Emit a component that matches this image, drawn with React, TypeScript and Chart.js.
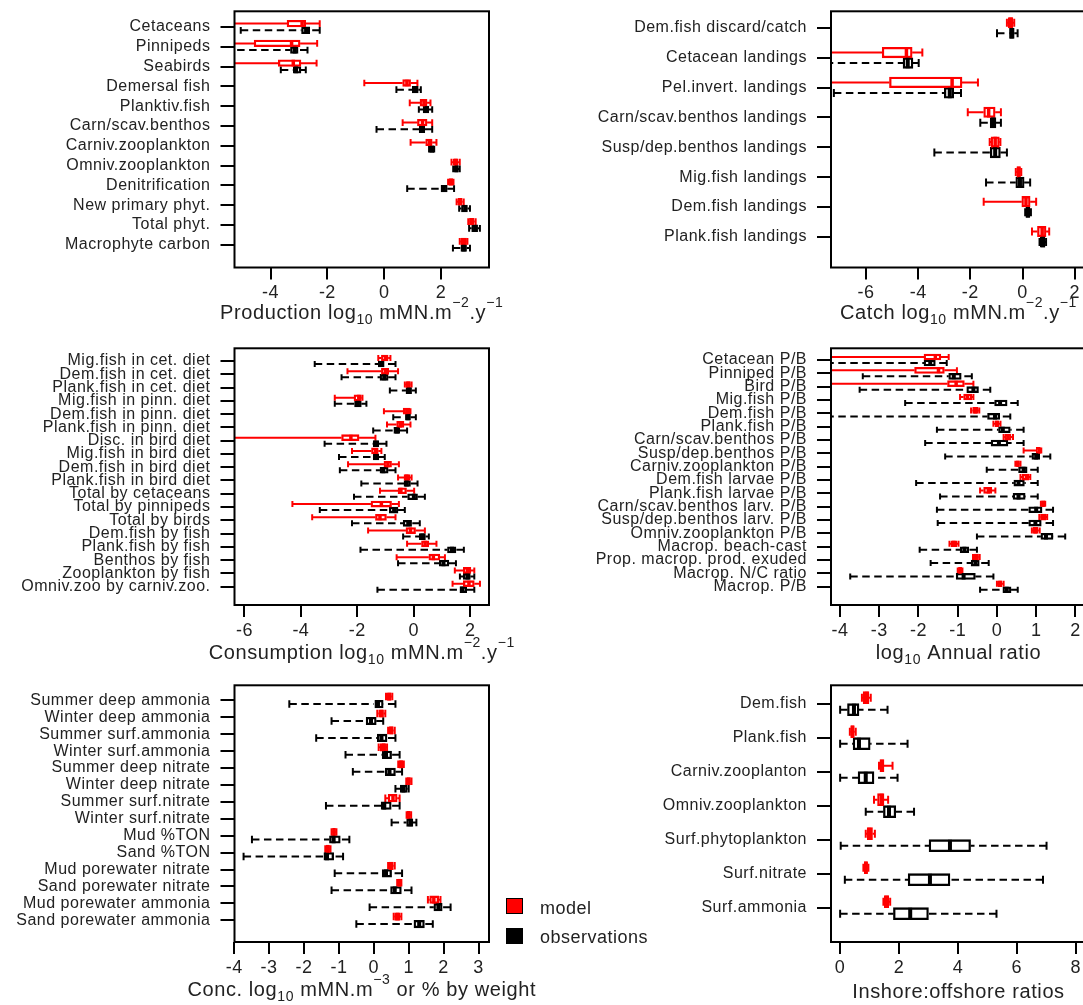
import React, { useEffect, useRef } from 'react';
import { Chart, registerables } from 'chart.js';

Chart.register(...registerables);

const FONT = 'Arial, "Liberation Sans", sans-serif';
const RED = '#ff0000';
const BLACK = '#000000';
const TEXT = '#222222';

// Each summary is [min, lower quartile, median, upper quartile, max]
type Five = [number, number, number, number, number];

// ---------- Panel 1: Production ----------
const PROD_LABELS = ['Cetaceans', 'Pinnipeds', 'Seabirds', 'Demersal fish', 'Planktiv.fish', 'Carn/scav.benthos', 'Carniv.zooplankton', 'Omniv.zooplankton', 'Denitrification', 'New primary phyt.', 'Total phyt.', 'Macrophyte carbon'];
const PROD_MODEL: Five[] = [
  [-6.5, -3.42, -2.89, -2.76, -2.27],
  [-6.8, -4.58, -3.26, -2.96, -2.36],
  [-6.6, -3.73, -3.2, -2.93, -2.38],
  [-0.7, 0.65, 0.8, 0.93, 1.17],
  [0.9, 1.26, 1.4, 1.51, 1.63],
  [0.65, 1.17, 1.35, 1.51, 1.69],
  [0.93, 1.46, 1.6, 1.69, 1.84],
  [2.37, 2.43, 2.52, 2.6, 2.66],
  [2.25, 2.28, 2.35, 2.41, 2.44],
  [2.55, 2.6, 2.65, 2.75, 2.8],
  [2.96, 3.0, 3.08, 3.17, 3.22],
  [2.66, 2.7, 2.8, 2.9, 2.93],
];
const PROD_OBS: Five[] = [
  [-5.05, -2.91, -2.75, -2.62, -2.27],
  [-5.6, -3.3, -3.15, -3.03, -2.7],
  [-3.64, -3.2, -3.1, -2.93, -2.76],
  [0.43, 0.99, 1.1, 1.2, 1.29],
  [1.22, 1.37, 1.5, 1.57, 1.69],
  [-0.27, 1.23, 1.3, 1.43, 1.69],
  [1.58, 1.6, 1.68, 1.74, 1.76],
  [2.43, 2.47, 2.55, 2.6, 2.66],
  [0.81, 2.0, 2.1, 2.22, 2.46],
  [2.64, 2.72, 2.85, 2.93, 3.02],
  [2.99, 3.08, 3.2, 3.29, 3.37],
  [2.42, 2.7, 2.8, 2.9, 3.02],
];
const PROD_TICKS = [-4, -2, 0, 2];

// ---------- Panel 2: Catch ----------
const CATCH_LABELS = ['Dem.fish discard/catch', 'Cetacean landings', 'Pel.invert. landings', 'Carn/scav.benthos landings', 'Susp/dep.benthos landings', 'Mig.fish landings', 'Dem.fish landings', 'Plank.fish landings'];
const CATCH_MODEL: Five[] = [
  [-0.6, -0.55, -0.45, -0.37, -0.32],
  [-9, -5.38, -4.45, -4.23, -3.84],
  [-9.5, -5.1, -2.7, -2.32, -1.71],
  [-2.1, -1.49, -1.3, -1.05, -0.83],
  [-1.26, -1.21, -1.05, -0.89, -0.85],
  [-0.26, -0.22, -0.15, -0.08, -0.05],
  [-1.49, -0.03, 0.13, 0.29, 0.52],
  [0.36, 0.57, 0.75, 0.9, 1.02],
];
const CATCH_OBS: Five[] = [
  [-0.98, -0.5, -0.42, -0.32, -0.19],
  [-8, -4.58, -4.4, -4.2, -3.98],
  [-7.23, -3.0, -2.79, -2.64, -2.36],
  [-1.62, -1.24, -1.13, -1.02, -0.83],
  [-3.38, -1.24, -1.05, -0.85, -0.6],
  [-1.4, -0.26, -0.1, 0.06, 0.29],
  [0.1, 0.13, 0.2, 0.28, 0.32],
  [0.65, 0.68, 0.78, 0.86, 0.9],
];
const CATCH_TICKS = [-6, -4, -2, 0, 2];

// ---------- Panel 3: Consumption ----------
const CONS_LABELS = ['Mig.fish in cet. diet', 'Dem.fish in cet. diet', 'Plank.fish in cet. diet', 'Mig.fish in pinn. diet', 'Dem.fish in pinn. diet', 'Plank.fish in pinn. diet', 'Disc. in bird diet', 'Mig.fish in bird diet', 'Dem.fish in bird diet', 'Plank.fish in bird diet', 'Total by cetaceans', 'Total by pinnipeds', 'Total by birds', 'Dem.fish by fish', 'Plank.fish by fish', 'Benthos by fish', 'Zooplankton by fish', 'Omniv.zoo by carniv.zoo.'];
const CONS_MODEL: Five[] = [
  [-1.26, -1.15, -1.0, -0.91, -0.83],
  [-2.35, -1.15, -1.0, -0.89, -0.56],
  [-0.32, -0.28, -0.2, -0.12, -0.08],
  [-2.8, -2.12, -1.95, -1.86, -1.82],
  [-1.06, -0.38, -0.25, -0.14, -0.12],
  [-0.95, -0.61, -0.48, -0.35, -0.12],
  [-7.5, -2.56, -2.23, -1.94, -1.36],
  [-2.19, -1.5, -1.35, -1.26, -1.15],
  [-2.33, -1.06, -0.92, -0.79, -0.53],
  [-0.56, -0.35, -0.25, -0.14, -0.08],
  [-1.2, -0.56, -0.46, -0.26, 0.01],
  [-4.3, -1.52, -1.15, -0.79, -0.53],
  [-3.6, -1.36, -1.2, -0.97, -0.65],
  [-1.62, -0.28, -0.12, 0.06, 0.39],
  [-0.24, 0.27, 0.4, 0.53, 0.8],
  [-0.61, 0.53, 0.69, 0.92, 1.1],
  [1.45, 1.75, 1.9, 2.02, 2.14],
  [1.37, 1.75, 1.95, 2.14, 2.34],
];
const CONS_OBS: Five[] = [
  [-3.51, -1.26, -1.15, -1.05, -0.65],
  [-2.56, -1.2, -1.05, -0.91, -0.65],
  [-0.85, -0.28, -0.18, -0.08, 0.07],
  [-2.8, -2.1, -1.98, -1.86, -1.68],
  [-0.73, -0.3, -0.2, -0.12, 0.07],
  [-1.44, -0.71, -0.6, -0.5, -0.24],
  [-3.16, -1.44, -1.35, -1.24, -0.97],
  [-2.65, -1.44, -1.35, -1.24, -1.03],
  [-2.62, -1.2, -1.08, -0.91, -0.65],
  [-1.86, -0.35, -0.25, -0.12, 0.13],
  [-2.12, -0.22, 0.0, 0.13, 0.39],
  [-3.33, -0.87, -0.7, -0.56, -0.32],
  [-2.19, -0.38, -0.2, -0.08, 0.21],
  [-0.38, 0.19, 0.3, 0.41, 0.53],
  [-1.89, 1.19, 1.35, 1.49, 1.77],
  [-0.56, 0.9, 1.05, 1.24, 1.49],
  [1.63, 1.75, 1.9, 2.0, 2.14],
  [-1.29, 1.63, 1.72, 1.87, 2.14],
];
const CONS_TICKS = [-6, -4, -2, 0, 2];

// ---------- Panel 4: Annual ratio ----------
const RATIO_LABELS = ['Cetacean P/B', 'Pinniped P/B', 'Bird P/B', 'Mig.fish P/B', 'Dem.fish P/B', 'Plank.fish P/B', 'Carn/scav.benthos P/B', 'Susp/dep.benthos P/B', 'Carniv.zooplankton P/B', 'Dem.fish larvae P/B', 'Plank.fish larvae P/B', 'Carn/scav.benthos larv. P/B', 'Susp/dep.benthos larv. P/B', 'Omniv.zooplankton P/B', 'Macrop. beach-cast', 'Prop. macrop. prod. exuded', 'Macrop. N/C ratio', 'Macrop. P/B'];
const RATIO_MODEL: Five[] = [
  [-5.0, -1.86, -1.57, -1.43, -1.23],
  [-5.0, -2.1, -1.49, -1.34, -1.02],
  [-5.0, -1.26, -1.04, -0.83, -0.6],
  [-0.94, -0.85, -0.75, -0.64, -0.6],
  [-0.66, -0.62, -0.55, -0.48, -0.45],
  [-0.09, -0.05, 0.0, 0.05, 0.09],
  [0.17, 0.2, 0.28, 0.36, 0.41],
  [0.68, 1.0, 1.08, 1.1, 1.13],
  [0.47, 0.5, 0.53, 0.57, 0.6],
  [0.6, 0.64, 0.75, 0.81, 0.85],
  [-0.43, -0.34, -0.22, -0.13, -0.04],
  [1.12, 1.14, 1.18, 1.21, 1.23],
  [1.08, 1.11, 1.18, 1.25, 1.28],
  [0.89, 0.92, 0.98, 1.05, 1.09],
  [-1.21, -1.17, -1.1, -1.02, -0.98],
  [-0.61, -0.58, -0.52, -0.47, -0.44],
  [-1.0, -0.98, -0.94, -0.9, -0.88],
  [0.0, 0.03, 0.08, 0.13, 0.17],
];
const RATIO_OBS: Five[] = [
  [-4.35, -1.86, -1.7, -1.57, -1.28],
  [-3.42, -1.23, -1.1, -0.91, -0.64],
  [-3.5, -0.77, -0.6, -0.47, -0.17],
  [-2.34, -0.06, 0.08, 0.26, 0.53],
  [-4.35, -0.24, -0.05, 0.07, 0.34],
  [-1.53, 0.04, 0.15, 0.34, 0.68],
  [-1.83, -0.15, 0.05, 0.28, 0.68],
  [-1.32, 0.89, 1.0, 1.09, 1.36],
  [-0.26, 0.55, 0.68, 0.77, 1.04],
  [-2.06, 0.43, 0.55, 0.7, 1.04],
  [-1.45, 0.41, 0.55, 0.72, 1.04],
  [-1.53, 0.81, 1.0, 1.15, 1.43],
  [-1.51, 0.81, 0.98, 1.13, 1.43],
  [-0.51, 1.12, 1.25, 1.43, 1.74],
  [-1.97, -0.94, -0.83, -0.72, -0.51],
  [-1.69, -0.66, -0.55, -0.45, -0.21],
  [-3.74, -1.04, -0.85, -0.55, -0.09],
  [-0.43, 0.15, 0.25, 0.36, 0.53],
];
const RATIO_TICKS = [-4, -3, -2, -1, 0, 1, 2];

// ---------- Panel 5: Concentrations ----------
const CONC_LABELS = ['Summer deep ammonia', 'Winter deep ammonia', 'Summer surf.ammonia', 'Winter surf.ammonia', 'Summer deep nitrate', 'Winter deep nitrate', 'Summer surf.nitrate', 'Winter surf.nitrate', 'Mud %TON', 'Sand %TON', 'Mud porewater nitrate', 'Sand porewater nitrate', 'Mud porewater ammonia', 'Sand porewater ammonia'];
const CONC_MODEL: Five[] = [
  [0.35, 0.38, 0.44, 0.5, 0.53],
  [0.1, 0.14, 0.22, 0.28, 0.33],
  [0.41, 0.44, 0.5, 0.56, 0.6],
  [0.14, 0.18, 0.28, 0.34, 0.38],
  [0.7, 0.72, 0.78, 0.83, 0.86],
  [0.93, 0.95, 1.0, 1.05, 1.08],
  [0.33, 0.41, 0.55, 0.67, 0.74],
  [0.94, 0.96, 1.0, 1.04, 1.07],
  [-1.21, -1.18, -1.14, -1.1, -1.07],
  [-1.39, -1.36, -1.31, -1.27, -1.24],
  [0.41, 0.44, 0.5, 0.56, 0.6],
  [0.67, 0.69, 0.73, 0.77, 0.79],
  [1.55, 1.6, 1.72, 1.86, 1.91],
  [0.57, 0.6, 0.68, 0.75, 0.79],
];
const CONC_OBS: Five[] = [
  [-2.42, 0.0, 0.12, 0.27, 0.62],
  [-1.21, -0.22, -0.08, 0.07, 0.27],
  [-1.65, 0.1, 0.22, 0.38, 0.62],
  [-0.81, 0.24, 0.35, 0.51, 0.74],
  [-0.6, 0.33, 0.45, 0.62, 0.81],
  [0.62, 0.76, 0.85, 0.96, 1.0],
  [-1.37, 0.21, 0.3, 0.5, 0.74],
  [0.51, 0.94, 1.05, 1.12, 1.22],
  [-3.49, -1.27, -1.15, -0.96, -0.7],
  [-3.73, -1.43, -1.34, -1.15, -0.88],
  [-1.12, 0.24, 0.35, 0.51, 0.81],
  [-1.21, 0.48, 0.6, 0.79, 1.08],
  [-0.12, 1.72, 1.85, 1.96, 2.2],
  [-0.5, 1.15, 1.3, 1.45, 1.69],
];
const CONC_TICKS = [-4, -3, -2, -1, 0, 1, 2, 3];

// ---------- Panel 6: Inshore:offshore ----------
const IO_LABELS = ['Dem.fish', 'Plank.fish', 'Carniv.zooplanton', 'Omniv.zooplankton', 'Surf.phytoplankton', 'Surf.nitrate', 'Surf.ammonia'];
const IO_MODEL: Five[] = [
  [0.74, 0.78, 0.9, 0.98, 1.04],
  [0.33, 0.36, 0.42, 0.48, 0.53],
  [1.32, 1.35, 1.42, 1.49, 1.78],
  [1.15, 1.27, 1.4, 1.49, 1.63],
  [0.87, 0.92, 1.0, 1.1, 1.18],
  [0.79, 0.82, 0.88, 0.93, 0.96],
  [1.47, 1.5, 1.58, 1.65, 1.7],
];
const IO_OBS: Five[] = [
  [0.0, 0.25, 0.47, 0.64, 1.61],
  [0.0, 0.44, 0.64, 1.02, 2.29],
  [0.0, 0.61, 0.87, 1.15, 1.95],
  [0.87, 1.47, 1.66, 1.89, 2.51],
  [0.02, 3.02, 3.73, 4.43, 7.01],
  [0.16, 2.31, 3.05, 3.73, 6.89],
  [0.0, 1.81, 2.38, 3.0, 5.31],
];
const IO_TICKS = [0, 2, 4, 6, 8];

const LEGEND_LABELS = ['model', 'observations'];

// title parts: [text, kind] kind 0 = normal, 1 = subscript, 2 = superscript
type Part = [string, number];

interface PanelSpec {
  left: number; top: number; width: number; height: number;
  yw: number; xh: number; padTop: number; padRight: number;
  labels: string[]; model: Five[]; obs: Five[];
  xmin: number; xmax: number; xticks: number[];
  ymin: number; ymax: number; bar: number;
  title: Part[]; titleDy: number;
}

const boxPlugin = {
  id: 'boxWhiskers',
  beforeDraw(chart: any) {
    (chart.ctx as any).letterSpacing = '0.5px';
  },
  beforeDatasetsDraw(chart: any) {
    const ctx = chart.ctx;
    const a = chart.chartArea;
    const xs = chart.scales.x;
    ctx.save();
    ctx.beginPath();
    ctx.rect(a.left, a.top, a.right - a.left, a.bottom - a.top);
    ctx.clip();
    chart.data.datasets.forEach((ds: any, di: number) => {
      const meta = chart.getDatasetMeta(di);
      ds.stats.forEach((s: Five, j: number) => {
        const el = meta.data[j];
        if (!el) return;
        const y = el.y;
        const h = el.height;
        const cap = Math.min(h / 2, 4);
        ctx.strokeStyle = ds.borderColor;
        ctx.lineWidth = 2;
        ctx.setLineDash(ds.dashed ? [7.5, 4.5] : []);
        ctx.beginPath();
        ctx.moveTo(xs.getPixelForValue(s[0]), y);
        ctx.lineTo(xs.getPixelForValue(s[1]), y);
        ctx.moveTo(xs.getPixelForValue(s[4]), y);
        ctx.lineTo(xs.getPixelForValue(s[3]), y);
        ctx.stroke();
        ctx.setLineDash([]);
        ctx.beginPath();
        [s[0], s[4]].forEach((v) => {
          const x = xs.getPixelForValue(v);
          ctx.moveTo(x, y - cap);
          ctx.lineTo(x, y + cap);
        });
        ctx.stroke();
      });
    });
    ctx.restore();
  },
  afterDatasetsDraw(chart: any) {
    const ctx = chart.ctx;
    const a = chart.chartArea;
    const xs = chart.scales.x;
    ctx.save();
    ctx.beginPath();
    ctx.rect(a.left, a.top, a.right - a.left, a.bottom - a.top);
    ctx.clip();
    chart.data.datasets.forEach((ds: any, di: number) => {
      const meta = chart.getDatasetMeta(di);
      ds.stats.forEach((s: Five, j: number) => {
        const el = meta.data[j];
        if (!el) return;
        const y = el.y;
        const h = el.height;
        const x = xs.getPixelForValue(s[2]);
        ctx.strokeStyle = ds.borderColor;
        ctx.lineWidth = ds.medWidth;
        ctx.beginPath();
        ctx.moveTo(x, y - h / 2);
        ctx.lineTo(x, y + h / 2);
        ctx.stroke();
      });
    });
    ctx.restore();
  },
  afterDraw(chart: any, _args: any, opts: any) {
    const ctx = chart.ctx;
    const a = chart.chartArea;
    ctx.save();
    ctx.strokeStyle = BLACK;
    ctx.lineWidth = 2;
    ctx.strokeRect(a.left, a.top, a.right - a.left, a.bottom - a.top);
    // axis title with sub/superscripts
    const parts: Part[] = opts.title || [];
    const big = 20;
    const small = 14;
    (ctx as any).letterSpacing = '0.6px';
    let total = 0;
    const widths = parts.map(([t, k]) => {
      ctx.font = `${k ? small : big}px ${FONT}`;
      const w = ctx.measureText(t).width;
      total += w;
      return w;
    });
    let x = (a.left + a.right) / 2 - total / 2;
    const cy = a.bottom + opts.titleDy;
    ctx.fillStyle = TEXT;
    ctx.textBaseline = 'middle';
    ctx.textAlign = 'left';
    parts.forEach(([t, k], i) => {
      ctx.font = `${k ? small : big}px ${FONT}`;
      const dy = k === 1 ? 7 : k === 2 ? -10 : 0;
      ctx.fillText(t, x, cy + dy);
      x += widths[i];
    });
    ctx.restore();
  },
};

function makeConfig(p: PanelSpec): any {
  const toBars = (arr: Five[]) => arr.map((s, i) => ({ x: [s[1], s[3]], y: i }));
  return {
    type: 'bar',
    data: {
      datasets: [
        {
          label: LEGEND_LABELS[0], data: toBars(p.model), stats: p.model, dashed: false, medWidth: 3.5,
          backgroundColor: '#ffffff', borderColor: RED, borderWidth: 2.3, borderSkipped: false,
          barThickness: p.bar, clip: 0,
        },
        {
          label: LEGEND_LABELS[1], data: toBars(p.obs), stats: p.obs, dashed: true, medWidth: 4,
          backgroundColor: '#ffffff', borderColor: BLACK, borderWidth: 2.3, borderSkipped: false,
          barThickness: p.bar, clip: 0,
        },
      ],
    },
    options: {
      indexAxis: 'y',
      animation: false,
      responsive: false,
      events: [],
      layout: { padding: { top: p.padTop, right: p.padRight, left: 0, bottom: 0 } },
      plugins: {
        legend: { display: false },
        tooltip: { enabled: false },
        boxWhiskers: { title: p.title, titleDy: p.titleDy },
      },
      scales: {
        x: {
          type: 'linear', min: p.xmin, max: p.xmax, offset: false,
          afterBuildTicks: (s: any) => { s.ticks = p.xticks.map((v) => ({ value: v })); },
          afterFit: (s: any) => { s.height = p.xh; },
          grid: { drawOnChartArea: false, drawTicks: true, tickLength: 12, lineWidth: 2, color: BLACK, offset: false },
          border: { display: false },
          ticks: {
            callback: (v: any) => String(v), font: { family: FONT, size: 18 }, color: TEXT,
            padding: 3, autoSkip: false, maxRotation: 0,
          },
        },
        y: {
          type: 'linear', reverse: true, min: p.ymin, max: p.ymax, offset: false,
          afterBuildTicks: (s: any) => { s.ticks = p.labels.map((_, i) => ({ value: i })); },
          afterFit: (s: any) => { s.width = p.yw; },
          grid: { drawOnChartArea: false, drawTicks: true, tickLength: 14, lineWidth: 2, color: BLACK, offset: false },
          border: { display: false },
          ticks: {
            callback: (v: any) => p.labels[Math.round(Number(v))] ?? '',
            font: { family: FONT, size: 16 }, color: TEXT, padding: 10, autoSkip: false,
          },
        },
      },
    },
    plugins: [boxPlugin],
  };
}

function Panel({ spec }: { spec: PanelSpec }) {
  const ref = useRef<HTMLCanvasElement | null>(null);
  useEffect(() => {
    if (!ref.current) return;
    const chart = new Chart(ref.current, makeConfig(spec));
    return () => chart.destroy();
  }, [spec]);
  return (
    <canvas
      ref={ref}
      width={spec.width}
      height={spec.height}
      style={{ position: 'absolute', left: spec.left, top: spec.top, width: spec.width, height: spec.height }}
    />
  );
}

const LEFT = { left: 0, width: 560, yw: 234.5, padRight: 71 };
const RIGHT = { left: 540, width: 556, yw: 291, padRight: 10 };
const ROW1 = { top: -14, height: 344, padTop: 25.3, xh: 62.5 };
const ROW2 = { top: 323, height: 349, padTop: 25.3, xh: 67 };
const ROW3 = { top: 660, height: 345, padTop: 25.3, xh: 63 };

const PANELS: PanelSpec[] = [
  {
    ...LEFT, ...ROW1, labels: PROD_LABELS, model: PROD_MODEL, obs: PROD_OBS,
    xmin: -5.27, xmax: 3.69, xticks: PROD_TICKS, ymin: -0.79, ymax: 12.15, bar: 6.7,
    title: [['Production log', 0], ['10', 1], [' mMN.m', 0], ['\u22122', 2], ['.y', 0], ['\u22121', 2]], titleDy: 46,
  },
  {
    ...RIGHT, ...ROW1, labels: CATCH_LABELS, model: CATCH_MODEL, obs: CATCH_OBS,
    xmin: -7.34, xmax: 2.43, xticks: CATCH_TICKS, ymin: -0.56, ymax: 8.03, bar: 10.5,
    title: [['Catch log', 0], ['10', 1], [' mMN.m', 0], ['\u22122', 2], ['.y', 0], ['\u22121', 2]], titleDy: 46,
  },
  {
    ...LEFT, ...ROW2, labels: CONS_LABELS, model: CONS_MODEL, obs: CONS_OBS,
    xmin: -6.35, xmax: 2.66, xticks: CONS_TICKS, ymin: -0.96, ymax: 18.38, bar: 6,
    title: [['Consumption log', 0], ['10', 1], [' mMN.m', 0], ['\u22122', 2], ['.y', 0], ['\u22121', 2]], titleDy: 48,
  },
  {
    ...RIGHT, ...ROW2, labels: RATIO_LABELS, model: RATIO_MODEL, obs: RATIO_OBS,
    xmin: -4.23, xmax: 2.27, xticks: RATIO_TICKS, ymin: -0.88, ymax: 18.37, bar: 6,
    title: [['log', 0], ['10', 1], [' Annual ratio', 0]], titleDy: 48,
  },
  {
    ...LEFT, ...ROW3, labels: CONC_LABELS, model: CONC_MODEL, obs: CONC_OBS,
    xmin: -3.99, xmax: 3.3, xticks: CONC_TICKS, ymin: -0.89, ymax: 14.28, bar: 7.5,
    title: [['Conc. log', 0], ['10', 1], [' mMN.m', 0], ['\u22123', 2], [' or % by weight', 0]], titleDy: 48,
  },
  {
    ...RIGHT, ...ROW3, labels: IO_LABELS, model: IO_MODEL, obs: IO_OBS,
    xmin: -0.31, xmax: 8.35, xticks: IO_TICKS, ymin: -0.54, ymax: 7.01, bar: 12,
    title: [['Inshore:offshore ratios', 0]], titleDy: 50,
  },
];

export default function App() {
  const legendText: React.CSSProperties = {
    position: 'absolute', left: 540, fontFamily: FONT, fontSize: 18, lineHeight: '18px',
    color: TEXT, letterSpacing: '0.5px', whiteSpace: 'nowrap',
  };
  const square: React.CSSProperties = {
    position: 'absolute', left: 506, width: 15, height: 14, border: '1px solid #000',
  };
  return (
    <div style={{ position: 'fixed', left: 0, top: 0, width: 1083, height: 1005, overflow: 'hidden', background: '#fff' }}>
      {PANELS.map((p, i) => <Panel key={i} spec={p} />)}
      <div style={{ ...square, top: 898, background: RED }} />
      <div style={{ ...square, top: 928, background: BLACK }} />
      <div style={{ ...legendText, top: 899 }}>{LEGEND_LABELS[0]}</div>
      <div style={{ ...legendText, top: 928 }}>{LEGEND_LABELS[1]}</div>
    </div>
  );
}
